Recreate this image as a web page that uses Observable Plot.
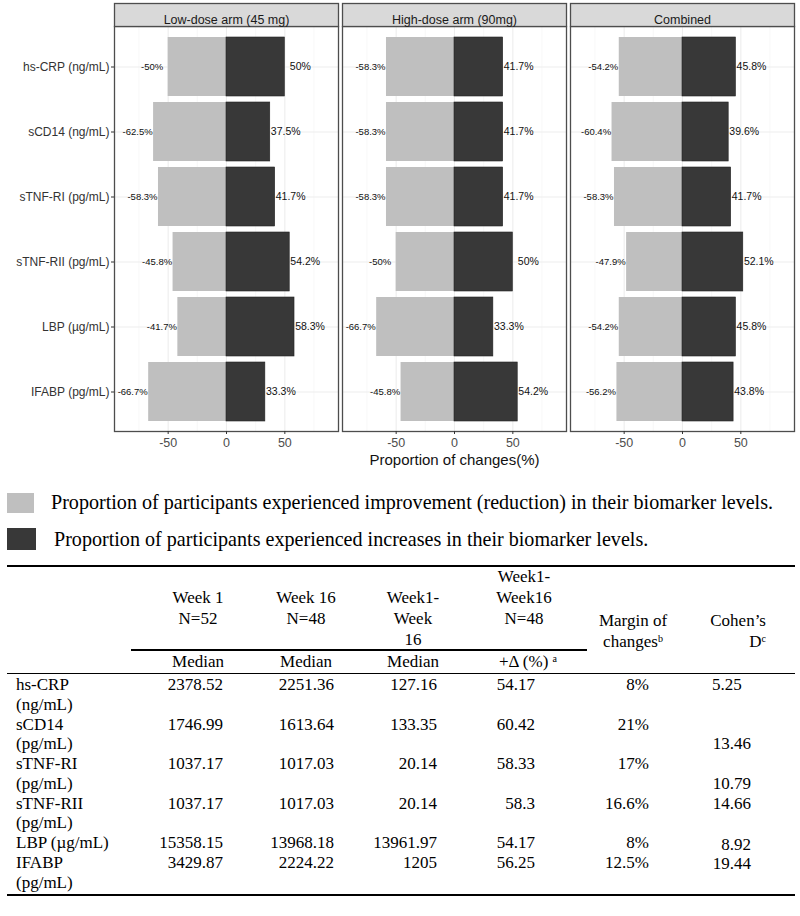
<!DOCTYPE html>
<html><head><meta charset="utf-8">
<script src="https://cdn.jsdelivr.net/npm/d3@7"></script>
<script src="https://cdn.jsdelivr.net/npm/@observablehq/plot@0.6"></script>
<style>
body{margin:0;background:#fff;}
#wrap{position:relative;width:800px;height:916px;overflow:hidden;background:#fff;}
#chart{position:absolute;left:0;top:0;}
.t{position:absolute;font-family:"Liberation Serif","Times New Roman",serif;font-size:17px;line-height:18px;color:#000;white-space:nowrap;}
.t sup{font-size:10px;line-height:0;vertical-align:5px;}
.lg{position:absolute;font-family:"Liberation Serif","Times New Roman",serif;font-size:20.1px;line-height:22px;color:#000;white-space:nowrap;}
.ln{position:absolute;background:#000;}
.sw{position:absolute;}
</style></head><body><div id="wrap"><div id="chart"></div></div>
<script>
// ---- chart data ----
const arms = ["Low-dose arm (45 mg)", "High-dose arm (90mg)", "Combined"];
const biomarkers = ["hs-CRP (ng/mL)", "sCD14 (ng/mL)", "sTNF-RI (pg/mL)", "sTNF-RII (pg/mL)", "LBP (\u00b5g/mL)", "IFABP (pg/mL)"];
const lowDecrease  = [-50, -62.5, -58.3, -45.8, -41.7, -66.7];
const lowIncrease  = [50, 37.5, 41.7, 54.2, 58.3, 33.3];
const highDecrease = [-58.3, -58.3, -58.3, -50, -66.7, -45.8];
const highIncrease = [41.7, 41.7, 41.7, 50, 33.3, 54.2];
const combDecrease = [-54.2, -60.4, -58.3, -47.9, -54.2, -56.2];
const combIncrease = [45.8, 39.6, 41.7, 52.1, 45.8, 43.8];
const xTicks = [-50, 0, 50];
const xMinorTicks = [-75, -25, 25, 75];
const axisTitle = "Proportion of changes(%)";
const legendLabels = [
  "Proportion of participants experienced improvement (reduction) in their biomarker levels.",
  "Proportion of participants experienced increases in their biomarker levels."
];

// ---- table data ----
const tableMarkers = [["hs-CRP", "(ng/mL)"], ["sCD14", "(pg/mL)"], ["sTNF-RI", "(pg/mL)"], ["sTNF-RII", "(pg/mL)"], ["LBP (\u00b5g/mL)"], ["IFABP", "(pg/mL)"]];
const week1Median  = ["2378.52", "1746.99", "1037.17", "1037.17", "15358.15", "3429.87"];
const week16Median = ["2251.36", "1613.64", "1017.03", "1017.03", "13968.18", "2224.22"];
const diffMedian   = ["127.16", "133.35", "20.14", "20.14", "13961.97", "1205"];
const deltaPct     = ["54.17", "60.42", "58.33", "58.3", "54.17", "56.25"];
const marginChange = ["8%", "21%", "17%", "16.6%", "8%", "12.5%"];
const cohensD      = ["5.25", "13.46", "10.79", "14.66", "8.92", "19.44"];

const LIGHT = "#bfbfbf", DARK = "#383838";

const armData = [[lowDecrease, lowIncrease], [highDecrease, highIncrease], [combDecrease, combIncrease]];
const rows = [];
arms.forEach((arm, i) => {
  biomarkers.forEach((b, j) => {
    rows.push({arm, biomarker: b, value: armData[i][0][j], dir: "dec"});
    rows.push({arm, biomarker: b, value: armData[i][1][j], dir: "inc"});
  });
});
const neg = rows.filter(d => d.dir === "dec");
const pos = rows.filter(d => d.dir === "inc");
const fmt = v => String(v) + "%";

const stripH = 23;
const H = 478, mTop = 3, mBottom = 47;
const facetH = H - mTop - mBottom;

const chart = Plot.plot({
  width: 800, height: H,
  marginLeft: 113, marginRight: 6, marginTop: mTop, marginBottom: mBottom,
  style: {background: "#fff", fontFamily: "'Liberation Sans', Arial, sans-serif", color: "#333"},
  fx: {domain: arms, paddingInner: 0.0176, paddingOuter: 0, axis: null, label: null},
  x: {domain: [-96, 96], label: null},
  y: {domain: biomarkers, paddingInner: 0.1, paddingOuter: 0.15, insetTop: stripH, label: null},
  marks: [
    Plot.ruleX(xMinorTicks, {stroke: "#f4f4f4", strokeWidth: 0.6, insetTop: stripH}),
    Plot.ruleX(xTicks, {stroke: "#ededed", strokeWidth: 1.1, insetTop: stripH}),
    Plot.ruleY(biomarkers, {y: d => d, stroke: "#ededed", strokeWidth: 1.1}),
    Plot.barX(neg, {fx: "arm", y: "biomarker", x1: d => 0, x2: "value", fill: LIGHT}),
    Plot.barX(pos, {fx: "arm", y: "biomarker", x1: d => 0, x2: "value", fill: DARK, stroke: "#222", strokeWidth: 0.6}),
    Plot.text(neg, {fx: "arm", y: "biomarker", x: "value", text: d => fmt(d.value), dx: -16, fontSize: 9.5, fill: "#111"}),
    Plot.text(pos, {fx: "arm", y: "biomarker", x: "value", text: d => fmt(d.value), dx: 15.5, fontSize: 10.5, fill: "#111"}),
    Plot.frame({stroke: "#4d4d4d", strokeWidth: 1.3, insetTop: stripH}),
    Plot.frame({fill: "#d9d9d9", stroke: "#4d4d4d", strokeWidth: 1.3, insetBottom: facetH - stripH}),
    Plot.text(arms, {fx: d => d, text: d => d, frameAnchor: "top", dy: 12, fontSize: 12.5, fill: "#1a1a1a"}),
    Plot.axisX({ticks: xTicks, tickFormat: d => String(d), tickSize: 3, tickPadding: 4, fontSize: 12.5, fill: "#4d4d4d", stroke: "#333", label: null}),
    Plot.axisY({tickSize: 3, tickPadding: 2, fontSize: 12, fill: "#333", stroke: "#333", label: null}),
    Plot.text([axisTitle], {fx: () => arms[1], text: d => d, frameAnchor: "bottom", dy: 33, fontSize: 15, fill: "#111"})
  ]
});
document.getElementById("chart").appendChild(chart);

// ---- legend and table (HTML) ----
const wrap = document.getElementById("wrap");
function txt(html, x, yc, align, cls) {
  const el = document.createElement("div");
  el.className = cls || "t";
  el.innerHTML = html;
  el.style.top = (yc - 9) + "px";
  if (align === "r") { el.style.right = (800 - x) + "px"; }
  else if (align === "c") { el.style.left = x + "px"; el.style.transform = "translateX(-50%)"; }
  else { el.style.left = x + "px"; }
  wrap.appendChild(el);
  return el;
}
function line(x1, x2, y, w) {
  const el = document.createElement("div");
  el.className = "ln";
  el.style.left = x1 + "px"; el.style.width = (x2 - x1) + "px";
  el.style.top = (y - w / 2) + "px"; el.style.height = w + "px";
  wrap.appendChild(el);
}
function swatch(x, y, w, h, fill) {
  const el = document.createElement("div");
  el.className = "sw";
  Object.assign(el.style, {left: x + "px", top: y + "px", width: w + "px", height: h + "px", background: fill});
  wrap.appendChild(el);
}
// legend
swatch(7, 493, 27, 20, LIGHT);
swatch(7, 528, 29, 22, DARK);
const l1 = txt(legendLabels[0], 51, 502, "l", "lg"); l1.style.top = (502 - 11) + "px";
const l2 = txt(legendLabels[1], 54, 539, "l", "lg"); l2.style.top = (539 - 11) + "px";

// table
const C1 = 198, C2 = 306, C3 = 413, C4 = 524, C5 = 633;
line(7, 795, 566, 2.5);
txt("Week1-", C4, 577, "c"); txt("Week16", C4, 598, "c"); txt("N=48", C4, 619, "c");
txt("Week 1", C1, 598, "c"); txt("N=52", C1, 619, "c");
txt("Week 16", C2, 598, "c"); txt("N=48", C2, 619, "c");
txt("Week1-", C3, 598, "c"); txt("Week", C3, 619, "c"); txt("16", C3, 640, "c");
txt("Margin of", C5, 621, "c"); txt("changes<sup>b</sup>", C5, 642, "c");
txt("Cohen\u2019s", 766, 621, "r"); txt("D<sup>c</sup>", 766, 642, "r");
line(131, 587, 650, 1.2);
txt("Median", C1, 662, "c"); txt("Median", C2, 662, "c"); txt("Median", C3, 662, "c");
txt("+\u0394 (%) <sup>a</sup>", 499, 662, "l");
line(7, 795, 673.5, 1.2);

const rowY = [685, 724.5, 764, 803.5, 843, 863];
const dY = [685, 744, 783.5, 803.5, 845, 864];
tableMarkers.forEach((m, i) => {
  const y = rowY[i];
  txt(m[0], 16, y, "l");
  if (m[1]) txt(m[1], 16, y + 19.7, "l");
  txt(week1Median[i], 223, y, "r");
  txt(week16Median[i], 334, y, "r");
  txt(diffMedian[i], 437, y, "r");
  txt(deltaPct[i], 535, y, "r");
  txt(marginChange[i], 649, y, "r");
  if (i === 0) txt(cohensD[i], 712, dY[i], "l");
  else txt(cohensD[i], 751, dY[i], "r");
});
line(7, 795, 895, 2.5);
</script></body></html>
